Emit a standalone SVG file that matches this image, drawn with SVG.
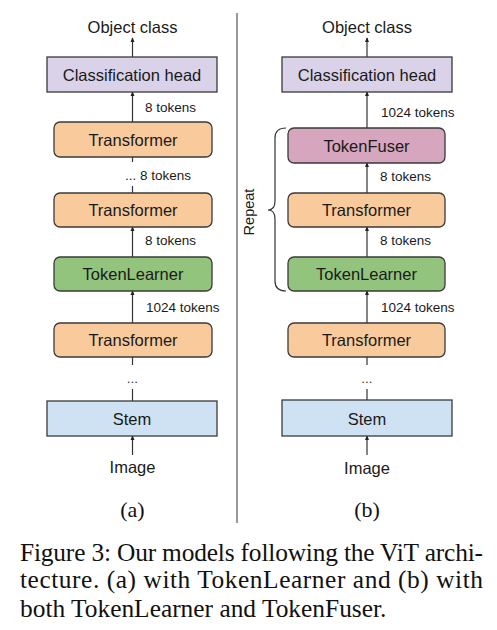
<svg xmlns="http://www.w3.org/2000/svg" width="497" height="630" viewBox="0 0 497 630">
<style>
.box{stroke:#3a3a3a;stroke-width:1.3}
.lbl{font-family:"Liberation Sans",Arial,sans-serif;font-size:16.5px;fill:#1a1a1a;text-anchor:middle}
.tok{font-family:"Liberation Sans",Arial,sans-serif;font-size:13.5px;fill:#1a1a1a}
.cap{font-family:"Liberation Serif","Times New Roman",serif;font-size:25.4px;fill:#111}
.sub{font-family:"Liberation Serif","Times New Roman",serif;font-size:22px;fill:#111;text-anchor:middle}
.ln{stroke:#333;stroke-width:1.2;fill:none}
.dots{font-family:"Liberation Sans",Arial,sans-serif;font-size:13.5px;fill:#333;text-anchor:middle}
</style>
<defs>
<marker id="ah" viewBox="0 0 6 6" refX="5" refY="3" markerWidth="5" markerHeight="5" orient="auto" markerUnits="userSpaceOnUse">
<path d="M0,0.5 L6,3 L0,5.5 z" fill="#222"/>
</marker>
</defs>
<rect width="497" height="630" fill="#fff"/>
<line x1="237" y1="13" x2="237" y2="523" stroke="#555" stroke-width="1.2"/>

<g id="connectors">
<line class="ln" x1="132.5" y1="57" x2="132.5" y2="38" marker-end="url(#ah)"/>
<line class="ln" x1="132.5" y1="122" x2="132.5" y2="92" marker-end="url(#ah)"/>
<line class="ln" x1="132.5" y1="193" x2="132.5" y2="186"/>
<line class="ln" x1="132.5" y1="162" x2="132.5" y2="157"/>
<line class="ln" x1="132.5" y1="257" x2="132.5" y2="227" marker-end="url(#ah)"/>
<line class="ln" x1="132.5" y1="323" x2="132.5" y2="291" marker-end="url(#ah)"/>
<line class="ln" x1="132.5" y1="401" x2="132.5" y2="389"/>
<line class="ln" x1="132.5" y1="365" x2="132.5" y2="357"/>
<line class="ln" x1="132.5" y1="455" x2="132.5" y2="436" marker-end="url(#ah)"/>
<line class="ln" x1="367" y1="57" x2="367" y2="38" marker-end="url(#ah)"/>
<line class="ln" x1="367" y1="128" x2="367" y2="92" marker-end="url(#ah)"/>
<line class="ln" x1="367" y1="193" x2="367" y2="163" marker-end="url(#ah)"/>
<line class="ln" x1="367" y1="257" x2="367" y2="227" marker-end="url(#ah)"/>
<line class="ln" x1="367" y1="323" x2="367" y2="291" marker-end="url(#ah)"/>
<line class="ln" x1="367" y1="400" x2="367" y2="389"/>
<line class="ln" x1="367" y1="365" x2="367" y2="357"/>
<line class="ln" x1="367" y1="455" x2="367" y2="436" marker-end="url(#ah)"/>
<path class="ln" d="M286,128 Q275,128 275,138 L275,201 Q275,210 268,210 Q275,210 275,219 L275,281 Q275,291 286,291"/>
</g>

<g id="labels-left">
<text class="lbl" x="132.5" y="33">Object class</text>
<text class="tok" x="145" y="112">8 tokens</text>
<text class="tok" x="125" y="180">... 8 tokens</text>
<text class="tok" x="145" y="245">8 tokens</text>
<text class="tok" x="146" y="312">1024 tokens</text>
<text class="dots" x="132.5" y="383">...</text>
<text class="lbl" x="132.5" y="473">Image</text>
<text class="sub" x="132.5" y="517">(a)</text>
</g>

<g id="labels-right">
<text class="lbl" x="367" y="33">Object class</text>
<text class="tok" x="381" y="117">1024 tokens</text>
<text class="tok" x="380" y="181">8 tokens</text>
<text class="tok" x="380" y="245">8 tokens</text>
<text class="tok" x="381" y="312">1024 tokens</text>
<text class="dots" x="367" y="383">...</text>
<text class="lbl" x="367" y="474">Image</text>
<text class="sub" x="367" y="517">(b)</text>
<text class="lbl" style="font-size:14.5px" transform="translate(254,212) rotate(-90)">Repeat</text>
</g>

<g id="a-head"><rect class="box" x="47" y="57" width="170" height="35" fill="#d9d2e9"/><text class="lbl" x="132" y="81">Classification head</text></g>
<g id="a-trans1"><rect class="box" x="54" y="122" width="158" height="35" rx="6" fill="#f9cb9c"/><text class="lbl" x="133" y="146">Transformer</text></g>
<g id="a-trans2"><rect class="box" x="54" y="193" width="158" height="34" rx="6" fill="#f9cb9c"/><text class="lbl" x="133" y="216">Transformer</text></g>
<g id="a-tl"><rect class="box" x="54" y="257" width="158" height="34" rx="6" fill="#93c47d"/><text class="lbl" x="133" y="280">TokenLearner</text></g>
<g id="a-trans3"><rect class="box" x="54" y="323" width="158" height="34" rx="6" fill="#f9cb9c"/><text class="lbl" x="133" y="346">Transformer</text></g>
<g id="a-stem"><rect class="box" x="47" y="401" width="170" height="35" fill="#cfe2f3"/><text class="lbl" x="132" y="425">Stem</text></g>

<g id="b-head"><rect class="box" x="282" y="57" width="170" height="35" fill="#d9d2e9"/><text class="lbl" x="367" y="81">Classification head</text></g>
<g id="b-fuser"><rect class="box" x="288" y="128" width="157" height="35" rx="6" fill="#d5a6bd"/><text class="lbl" x="366.5" y="152">TokenFuser</text></g>
<g id="b-trans1"><rect class="box" x="288" y="193" width="157" height="34" rx="6" fill="#f9cb9c"/><text class="lbl" x="366.5" y="216">Transformer</text></g>
<g id="b-tl"><rect class="box" x="288" y="257" width="157" height="34" rx="6" fill="#93c47d"/><text class="lbl" x="366.5" y="280">TokenLearner</text></g>
<g id="b-trans2"><rect class="box" x="288" y="323" width="157" height="34" rx="6" fill="#f9cb9c"/><text class="lbl" x="366.5" y="346">Transformer</text></g>
<g id="b-stem"><rect class="box" x="282" y="400" width="170" height="36" fill="#cfe2f3"/><text class="lbl" x="367" y="425">Stem</text></g>

<g id="caption">
<text class="cap" x="20" y="561" textLength="463" lengthAdjust="spacing">Figure 3: Our models following the ViT archi-</text>
<text class="cap" x="20" y="588" textLength="463" lengthAdjust="spacing">tecture.  (a) with TokenLearner and (b) with</text>
<text class="cap" x="20" y="617">both TokenLearner and TokenFuser.</text>
</g>
</svg>
